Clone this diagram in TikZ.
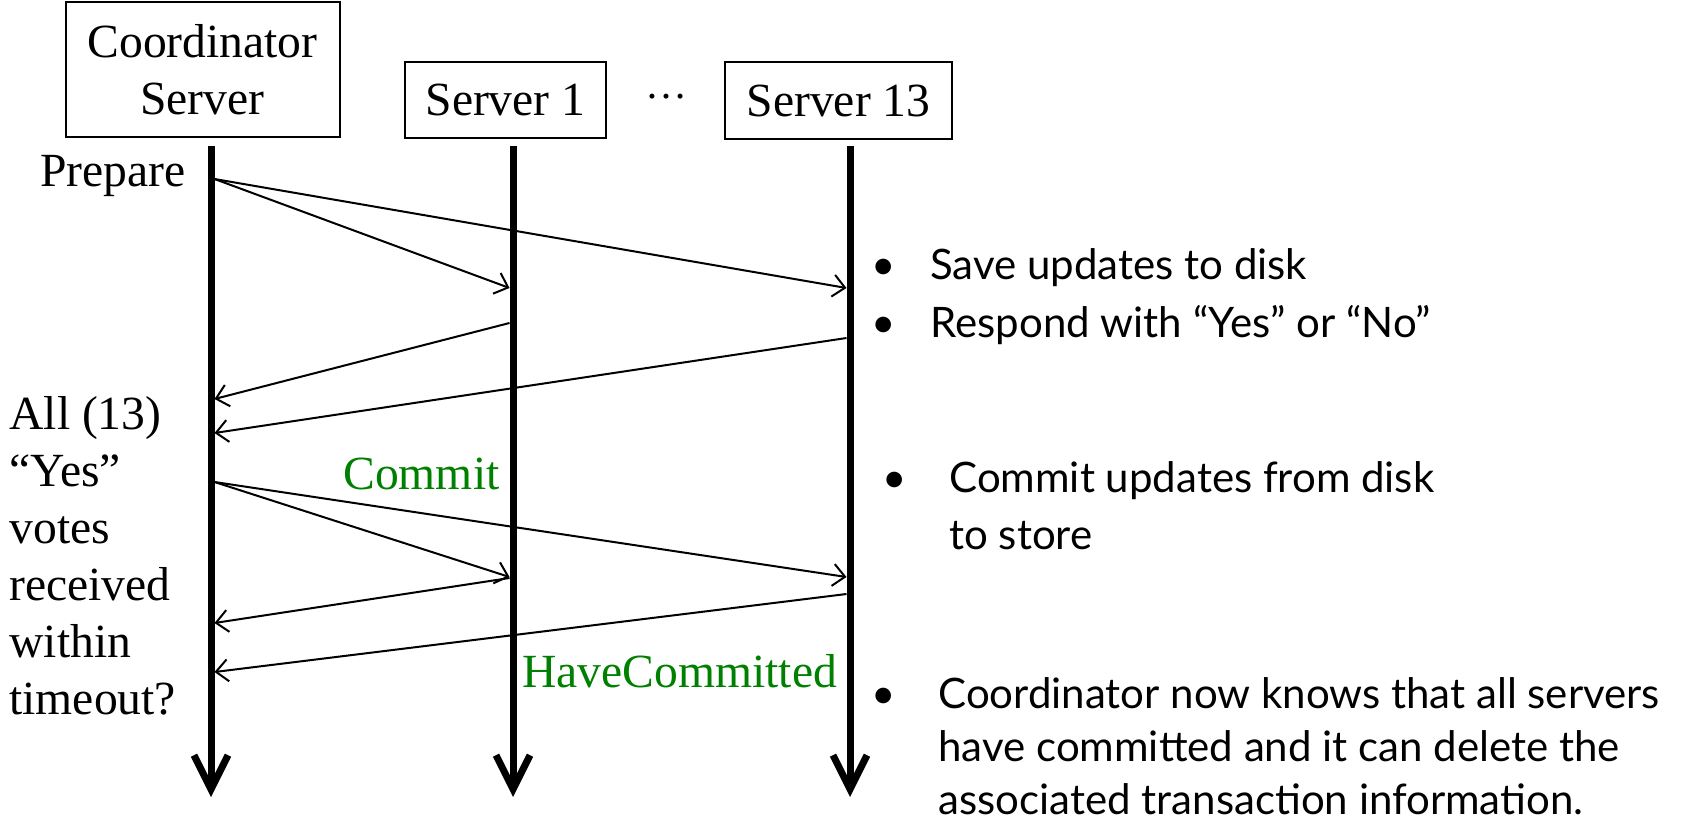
\documentclass[tikz,border=0pt]{standalone}
\usepackage{fontspec}
\setmainfont{Liberation Serif}
\newfontfamily\gill{Lato}
\usetikzlibrary{arrows.meta}
\definecolor{cgreen}{RGB}{0,128,0}
\begin{document}
\begin{tikzpicture}[x=0.5pt,y=-0.5pt,
  serif/.style={font=\fontsize{23.8}{28.5}\selectfont, inner sep=0pt},
  box/.style={serif, draw, line width=1pt, align=center},
  life/.style={line width=3.5pt, -{Straight Barb[length=17pt,width=17pt]}},
  msg/.style={line width=1pt, -{Straight Barb[length=6pt,width=11pt]}},
  sans/.style={font=\gill\fontsize{21}{28.5}\selectfont, inner sep=0pt, align=left},
  lbl/.style={serif, text=cgreen}
]
\useasboundingbox (0,0) rectangle (1695,829);

% participant boxes
\node[box, minimum width=137pt, minimum height=67.5pt] (coord) at (202.5,69.5) {Coordinator\\Server};
\node[box, minimum width=100.5pt, minimum height=38pt] (s1) at (505.5,100) {Server 1};
\node[box, minimum width=113.5pt, minimum height=38.5pt] (s13) at (838.5,100.5) {Server 13};
\node[font=\fontsize{21}{21}\selectfont, inner sep=0pt, anchor=base] (dots) at (666,98) {…};

% lifelines
\coordinate (c0) at (211,146);  \coordinate (c9) at (211,797);
\coordinate (a0) at (513,146);  \coordinate (a9) at (513,797);
\coordinate (b0) at (850,146);  \coordinate (b9) at (850,797);
\draw[life] (c0) -- (c9);
\draw[life] (a0) -- (a9);
\draw[life] (b0) -- (b9);

% message points
\coordinate (p0) at (214.5,179);
\coordinate (p1) at (509.5,288);
\coordinate (p2) at (846.5,288);
\coordinate (r1s) at (509.5,323); \coordinate (r1e) at (214.5,399);
\coordinate (r2s) at (846.5,338); \coordinate (r2e) at (214.5,433);
\coordinate (k0) at (214.5,482);
\coordinate (k1) at (509.5,577);
\coordinate (k2) at (846.5,577);
\coordinate (h1s) at (509.5,578); \coordinate (h1e) at (214.5,623);
\coordinate (h2s) at (846.5,594); \coordinate (h2e) at (214.5,672);

\draw[msg] (p0) -- (p1);
\draw[msg] (p0) -- (p2);
\draw[msg] (r1s) -- (r1e);
\draw[msg] (r2s) -- (r2e);
\draw[msg] (k0) -- (k1);
\draw[msg] (k0) -- (k2);
\draw[msg] (h1s) -- (h1e);
\draw[msg] (h2s) -- (h2e);

% left labels
\node[serif, anchor=base west] (prep) at (40,186) {Prepare};
\node[serif, anchor=base west, align=left] (votes) at (9,714)
  {All (13)\\“Yes”\\votes\\received\\within\\timeout?};

% green labels
\node[lbl, anchor=base west] (commit) at (343,489) {Commit};
\node[lbl, anchor=base west] (havec) at (522,687) {HaveCommitted};

% right notes
\node[sans, anchor=base] (bul1) at (884,279) {•};
\node[sans, anchor=base west] (t1) at (930,279) {Save updates to disk};
\node[sans, anchor=base] (bul2) at (884,337) {•};
\node[sans, anchor=base west] (t2) at (930,337) {Respond with “Yes” or “No”};
\node[sans, anchor=base] (bul3) at (895,492) {•};
\node[sans, anchor=base west] (t3) at (949,549) {Commit updates from disk\\to store};
\node[sans, anchor=base] (bul4) at (884,708) {•};
\node[sans, anchor=base west, font=\gill\fontsize{21}{26.5}\selectfont] (t4) at (938,814)
  {Coordinator now knows that all servers\\have committed and it can delete the\\associated transaction information.};
\end{tikzpicture}
\end{document}
